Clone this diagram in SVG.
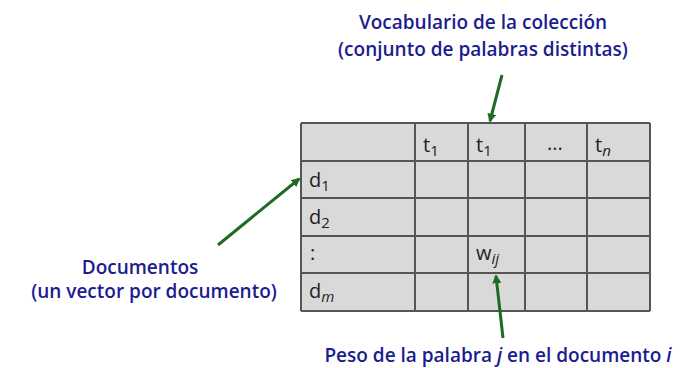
<svg xmlns="http://www.w3.org/2000/svg" width="698" height="368" viewBox="0 0 698 368">
<style>
.lbl{font-family:"Open Sans","Liberation Sans",sans-serif;font-size:19px;font-weight:600;fill:#1c1c8e;}
.cell{font-family:"Open Sans","Liberation Sans",sans-serif;font-size:20px;fill:#222;}
.sub{font-size:15px;}
.grid{stroke:#555;stroke-width:2;fill:none;}
.arr{stroke:#1f6b23;stroke-width:3;fill:none;marker-end:url(#ah);}
</style>
<defs>
<marker id="ah" viewBox="0 0 10 10" refX="8" refY="5" markerWidth="3" markerHeight="3" orient="auto" markerUnits="strokeWidth">
<path d="M0,0 L10,5 L0,10 z" fill="#1f6b23"/>
</marker>
</defs>
<rect width="698" height="368" fill="#fff"/>
<g id="table">
<rect x="301" y="123" width="349" height="188" fill="#d9d9d9"/>
<path class="grid" d="M301,123H650M301,161H650M301,198H650M301,236H650M301,273H650M301,311H650M301,123V311M415,123V311M468,123V311M525,123V311M587,123V311M650,123V311"/>
<text class="cell" x="423" y="152">t<tspan class="sub" dy="4">1</tspan></text>
<text class="cell" x="476" y="152">t<tspan class="sub" dy="4">1</tspan></text>
<text class="cell" x="547" y="150">...</text>
<text class="cell" x="595" y="152">t<tspan class="sub" dy="4" font-style="italic">n</tspan></text>
<text class="cell" x="309" y="187">d<tspan class="sub" dy="4">1</tspan></text>
<text class="cell" x="309" y="224">d<tspan class="sub" dy="4">2</tspan></text>
<text class="cell" x="310" y="260">:</text>
<text class="cell" x="476" y="260">w<tspan class="sub" dy="4" font-style="italic">ij</tspan></text>
<text class="cell" x="309" y="298">d<tspan class="sub" dy="4" font-style="italic">m</tspan></text>
</g>
<g id="vocab">
<text class="lbl" x="483" y="29" text-anchor="middle">Vocabulario de la colección</text>
<text class="lbl" x="483" y="56" text-anchor="middle">(conjunto de palabras distintas)</text>
</g>
<g id="docs">
<text class="lbl" x="140" y="274" text-anchor="middle">Documentos</text>
<text class="lbl" x="154" y="298" font-size="18.5" text-anchor="middle">(un vector por documento)</text>
</g>
<g id="peso">
<text class="lbl" x="498" y="362" text-anchor="middle">Peso de la palabra <tspan font-style="italic">j</tspan> en el documento <tspan font-style="italic">i</tspan></text>
</g>
<g id="connectors">
<line class="arr" x1="502" y1="75" x2="490" y2="121"/>
<line class="arr" x1="218" y1="245" x2="299" y2="179"/>
<line class="arr" x1="503" y1="338" x2="496" y2="276"/>
</g>
</svg>
